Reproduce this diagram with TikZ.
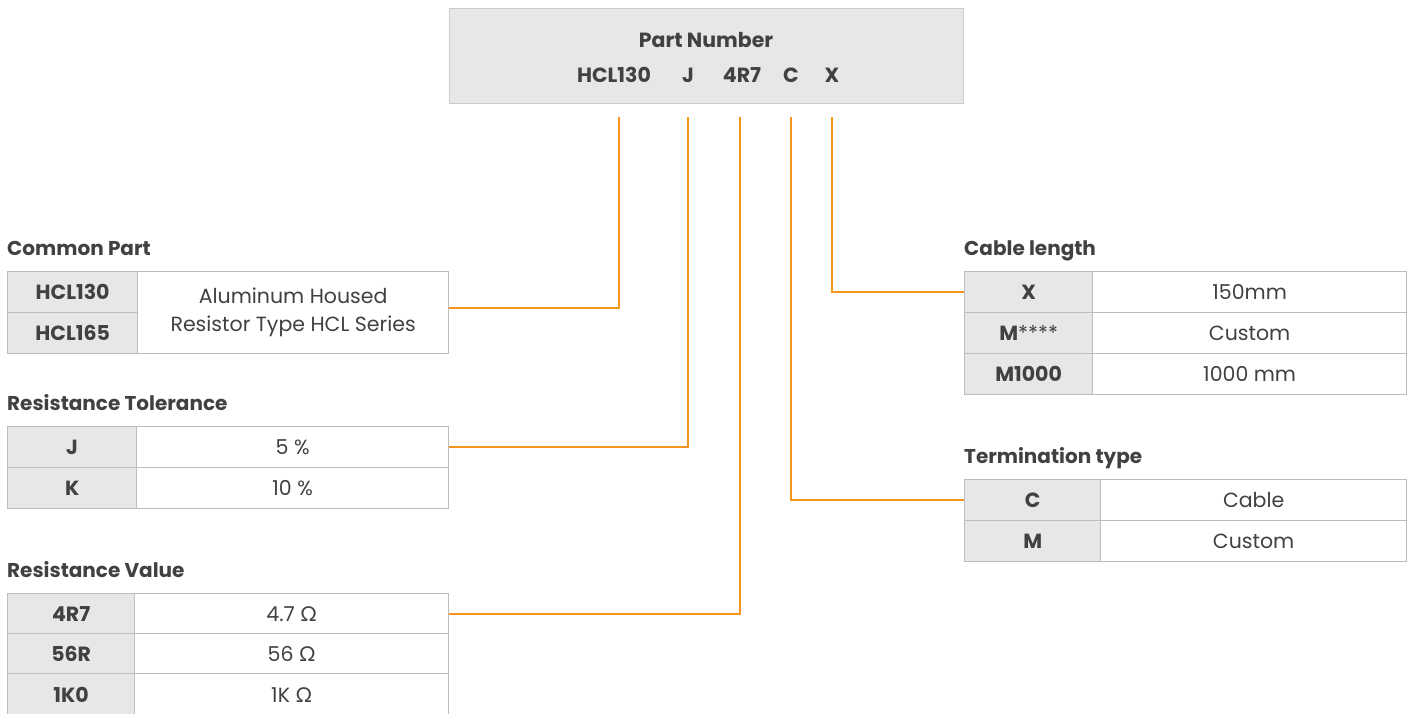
\documentclass[tikz,border=0pt]{standalone}
\usepackage{fontspec}
\setmainfont{Poppins}
\newfontfamily\omegafont{Lato}
\newcommand{\ohm}{{\omegafont Ω}}
\usetikzlibrary{calc}
\definecolor{txt}{HTML}{414042}
\definecolor{cellgray}{HTML}{E6E7E8}
\definecolor{bord}{HTML}{BDBDBD}
\definecolor{orng}{HTML}{F7941D}
\tikzset{
  cellbase/.style={draw=bord, line width=1.3pt, inner sep=0pt, anchor=north west, text=txt, align=center},
  cellg/.style={cellbase, fill=cellgray, font=\fontsize{20.5}{24}\selectfont\bfseries},
  cellw/.style={cellbase, fill=white, font=\fontsize{20.5}{28}\selectfont},
  head/.style={anchor=base west, inner sep=0pt, text=txt, font=\fontsize{20}{24}\selectfont\bfseries},
  code/.style={text=txt, font=\fontsize{20.5}{24}\selectfont\bfseries, inner sep=0pt},
  conn/.style={draw=orng, line width=2pt},
}
\begin{document}
\begin{tikzpicture}[x=1pt,y=-1pt]
\useasboundingbox[fill=white] (0,0) rectangle (1413,714);
% top box
\node[draw=bord!80, line width=1.3pt, fill=cellgray, anchor=north west, minimum width=514pt, minimum height=95pt, inner sep=0pt] (pn) at (449,8) {};
\node[code] (pnt) at (706,40) {Part Number};
\node[code] (c1) at (614,75) {HCL130};
\node[code] (c2) at (688,75) {J};
\node[code] (c3) at (742,75) {4R7};
\node[code] (c4) at (791,75) {C};
\node[code] (c5) at (832,75) {X};
% connector starts
\coordinate (s1) at (619,117);
\coordinate (s2) at (688,117);
\coordinate (s3) at (740,117);
\coordinate (s4) at (791,117);
\coordinate (s5) at (832,117);
% Common Part
\node[head] (hcp) at (7,255) {Common Part};
\node[cellg, minimum width=130pt, minimum height=41pt] (cp1) at (7,271) {HCL130};
\node[cellg, minimum width=130pt, minimum height=41pt] (cp2) at (7,312) {HCL165};
\node[cellw, minimum width=311pt, minimum height=82pt] (cpw) at (137,271) {Aluminum Housed\\Resistor Type HCL Series};
% Resistance Tolerance
\node[head] (hrt) at (7,410) {Resistance Tolerance};
\node[cellg, minimum width=129pt, minimum height=41pt] (rt1) at (7,426) {J};
\node[cellg, minimum width=129pt, minimum height=41pt] (rt2) at (7,467) {K};
\node[cellw, minimum width=312pt, minimum height=41pt] (rtw1) at (136,426) {5 \%};
\node[cellw, minimum width=312pt, minimum height=41pt] (rtw2) at (136,467) {10 \%};
% Resistance Value
\node[head] (hrv) at (7,577) {Resistance Value};
\node[cellg, minimum width=127pt, minimum height=40pt] (rv1) at (7,593) {4R7};
\node[cellg, minimum width=127pt, minimum height=40pt] (rv2) at (7,633) {56R};
\node[cellg, minimum width=127pt, minimum height=42pt] (rv3) at (7,673) {1K0};
\node[cellw, minimum width=314pt, minimum height=40pt] (rvw1) at (134,593) {4.7 \ohm};
\node[cellw, minimum width=314pt, minimum height=40pt] (rvw2) at (134,633) {56 \ohm};
\node[cellw, minimum width=314pt, minimum height=42pt] (rvw3) at (134,673) {1K \ohm};
% Cable length
\node[head] (hcl) at (964,255) {Cable length};
\node[cellg, minimum width=128pt, minimum height=41pt] (cl1) at (964,271) {X};
\node[cellg, minimum width=128pt, minimum height=41pt, font=\fontsize{20.5}{24}\selectfont] (cl2) at (964,312) {\textbf{M}****};
\node[cellg, minimum width=128pt, minimum height=41pt] (cl3) at (964,353) {M1000};
\node[cellw, minimum width=314pt, minimum height=41pt] (clw1) at (1092,271) {150mm};
\node[cellw, minimum width=314pt, minimum height=41pt] (clw2) at (1092,312) {Custom};
\node[cellw, minimum width=314pt, minimum height=41pt] (clw3) at (1092,353) {1000 mm};
% Termination type
\node[head] (htt) at (964,463) {Termination type};
\node[cellg, minimum width=136pt, minimum height=41pt] (tt1) at (964,479) {C};
\node[cellg, minimum width=136pt, minimum height=41pt] (tt2) at (964,520) {M};
\node[cellw, minimum width=306pt, minimum height=41pt] (ttw1) at (1100,479) {Cable};
\node[cellw, minimum width=306pt, minimum height=41pt] (ttw2) at (1100,520) {Custom};
% connectors
\draw[conn] (s1) |- ([yshift=5pt]cpw.east);
\draw[conn] (s2) |- (rtw1.east);
\draw[conn] (s3) |- (rvw1.east);
\draw[conn] (s4) |- (tt1.west);
\draw[conn] (s5) |- (cl1.west);
\end{tikzpicture}
\end{document}
